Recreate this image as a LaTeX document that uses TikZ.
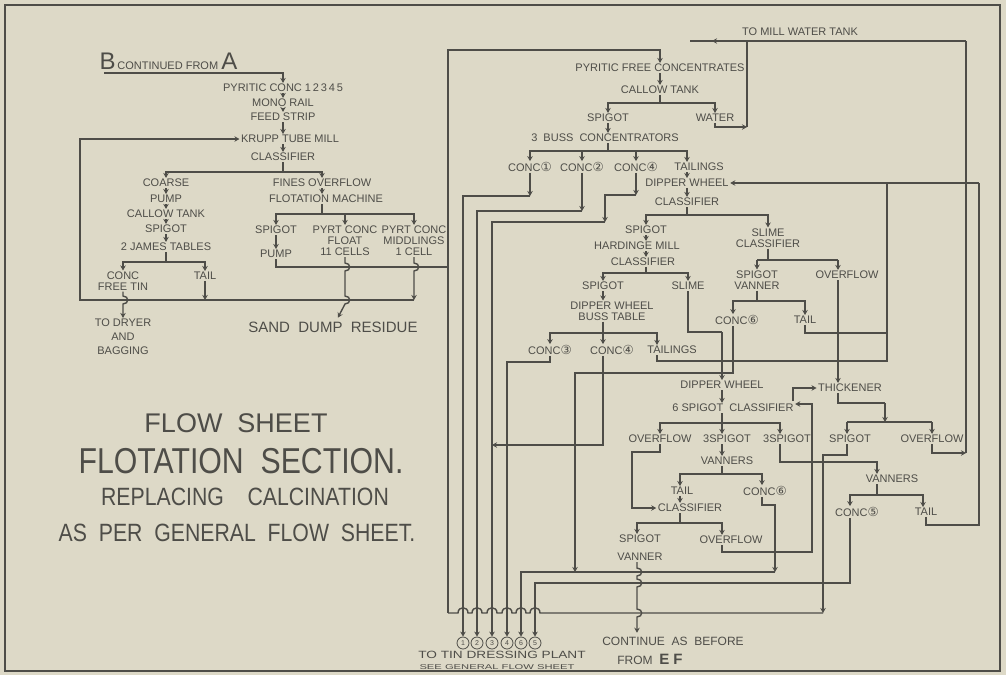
\documentclass[tikz,border=0pt]{standalone}
\usepackage{fontspec}
\usepackage{graphicx}
\setmainfont{Liberation Sans}
\newfontfamily\circfont{DejaVu Sans}
\usetikzlibrary{arrows.meta}

\definecolor{paper}{RGB}{221,217,199}
\definecolor{ink}{RGB}{78,77,72}

\newcommand\lblfont{\fontsize{11}{11}\selectfont}
\newcommand\bigletter[1]{{\fontsize{24}{24}\selectfont #1}}
\newcommand\cn[1]{{\circfont\fontsize{12.5}{11}\selectfont #1}}

\tikzset{
  lbl/.style={font=\lblfont, inner xsep=1pt, inner ysep=0.5pt, align=center},
  grade/.style={circle, draw, line width=0.8pt, inner sep=0pt, minimum size=12pt, font=\fontsize{7}{7}\selectfont},
}

\begin{document}
\begin{tikzpicture}[x=1pt, y=-1pt, >={Stealth[length=5pt,width=5.5pt]}, color=ink, line width=1.4pt]
  \fill[paper] (0,0) rectangle (1006,675);
  \draw[line width=1.8pt] (5,5) rectangle (1000,671);

  % left half: pyritic concentrates
  \node[anchor=base west, inner sep=0pt] (bfrom) at (99,69) {\bigletter{B}\,{\lblfont CONTINUED FROM }\bigletter{A}};
  \node[lbl] (pyr) at (283,88) {PYRITIC CONC 1\,2\,3\,4\,5};
  \node[lbl] (mono) at (283,103) {MONO RAIL};
  \node[lbl] (feed) at (283,117) {FEED STRIP};
  \node[lbl] (krupp) at (290,139) {KRUPP TUBE MILL};
  \node[lbl] (cls1) at (283,157) {CLASSIFIER};
  \node[lbl] (coarse) at (166,183) {COARSE};
  \node[lbl] (pump1) at (166,199) {PUMP};
  \node[lbl] (callow1) at (166,214) {CALLOW TANK};
  \node[lbl] (spig1) at (166,229) {SPIGOT};
  \node[lbl] (james) at (166,247) {2 JAMES TABLES};
  \node[lbl] (conc1) at (123,281) {CONC\\FREE TIN};
  \node[lbl] (tail1) at (205,276) {TAIL};
  \node[lbl, font=\fontsize{11}{14}\selectfont] (dryer) at (123,337) {TO DRYER\\AND\\BAGGING};
  \node[lbl] (fines) at (322,183) {FINES OVERFLOW};
  \node[lbl] (flot) at (326,199) {FLOTATION MACHINE};
  \node[lbl] (spig2) at (276,230) {SPIGOT};
  \node[lbl] (pump2) at (276,254) {PUMP};
  \node[lbl] (pyrtf) at (345,241) {PYRT CONC\\FLOAT\\11 CELLS};
  \node[lbl] (pyrtm) at (414,241) {PYRT CONC\\MIDDLINGS\\1 CELL};
  \node[font=\fontsize{15}{15}\selectfont] (sand) at (333,327) {SAND\ \ DUMP\ \ RESIDUE};

  \node[font=\fontsize{27}{27}\selectfont] (fs) at (236,423) {FLOW\ \ SHEET};
  \node[font=\fontsize{36}{36}\selectfont] (fsec) at (241,461) {\scalebox{0.84}[1]{FLOTATION\ \ SECTION.}};
  \node[font=\fontsize{25}{25}\selectfont] (repl) at (245,497) {\scalebox{0.85}[1]{REPLACING\ \ \ \ CALCINATION}};
  \node[font=\fontsize{25}{25}\selectfont] (asper) at (237,533) {\scalebox{0.85}[1]{AS\ \ PER\ \ GENERAL\ \ FLOW\ \ SHEET.}};

  \coordinate (bu) at (104,73);
  \draw[->] (bu) -| (pyr);
  \draw[->] (pyr) -- (mono);
  \draw[->] (mono) -- (feed);
  \draw[->] (feed) -- (feed |- krupp.north);
  \draw[->] (feed |- krupp.south) -- (cls1);
  \coordinate (j1) at (283,172);
  \draw (cls1) -- (j1);
  \draw[->] (j1) -| (coarse);
  \draw[->] (j1) -| (fines);
  \draw[->] (coarse) -- (pump1);
  \draw[->] (pump1) -- (callow1);
  \draw[->] (callow1) -- (spig1);
  \draw[->] (spig1) -- (james);
  \coordinate (j2) at (166,262);
  \draw (james) -- (j2);
  \draw[->] (j2) -| (conc1);
  \draw[->] (j2) -| (tail1);
  % middlings and tail back to the tube mill
  \coordinate (rr) at (414,300);
  \coordinate (rl) at (80,300);
  \draw[->] (rr) -- (rl) |- (krupp);
  \draw[->] (tail1) -- (tail1 |- rr);
  \draw[->] (conc1) -- (123,296) to[out=0,in=0,looseness=2] (123,304) -- (dryer);
  \draw[->] (fines) -- (fines |- flot.north);
  \coordinate (j3) at (322,214);
  \draw (fines |- flot.south) -- (j3);
  \draw[->] (j3) -| (spig2);
  \draw[->] (j3) -| (pyrtf);
  \draw[->] (j3) -| (pyrtm);
  \draw[->] (spig2) -- (pump2);
  \coordinate (pl) at (448,267);
  \draw (pump2) |- (pl);
  \draw[->] (pyrtm) -- (414,263) to[out=0,in=0,looseness=2] (414,271) -- (rr);
  \draw[->] (pyrtf) -- (345,263) to[out=0,in=0,looseness=2] (345,271) -- (345,296)
    to[out=0,in=0,looseness=2] (345,304) -- (sand);

  % right half: pyritic free concentrates
  \node[lbl] (mill) at (800,32) {TO MILL WATER TANK};
  \node[lbl] (pfc) at (660,68) {PYRITIC FREE CONCENTRATES};
  \node[lbl] (callow2) at (660,90) {CALLOW TANK};
  \node[lbl] (spig3) at (608,118) {SPIGOT};
  \node[lbl] (water) at (715,118) {WATER};
  \node[lbl] (buss3) at (605,138) {3\ \ BUSS\ \ CONCENTRATORS};
  \node[lbl] (c1) at (530,167) {CONC\cn{①}};
  \node[lbl] (c2) at (582,167) {CONC\cn{②}};
  \node[lbl] (c4a) at (636,167) {CONC\cn{④}};
  \node[lbl] (tails1) at (699,167) {TAILINGS};
  \node[lbl] (dw1) at (687,183) {DIPPER WHEEL};
  \node[lbl] (cls2) at (687,202) {CLASSIFIER};
  \node[lbl] (spig4) at (646,230) {SPIGOT};
  \node[lbl] (hard) at (637,246) {HARDINGE MILL};
  \node[lbl] (cls3) at (643,262) {CLASSIFIER};
  \node[lbl] (spig5) at (603,286) {SPIGOT};
  \node[lbl] (slime1) at (688,286) {SLIME};
  \node[lbl] (dwbuss) at (612,311) {DIPPER WHEEL\\BUSS TABLE};
  \node[lbl] (c3) at (550,350) {CONC\cn{③}};
  \node[lbl] (c4b) at (612,350) {CONC\cn{④}};
  \node[lbl] (tails2) at (672,350) {TAILINGS};
  \node[lbl] (slcls) at (768,238) {SLIME\\CLASSIFIER};
  \node[lbl] (spvan) at (757,280) {SPIGOT\\VANNER};
  \node[lbl] (ovf1) at (847,275) {OVERFLOW};
  \node[lbl] (c6a) at (737,320) {CONC\cn{⑥}};
  \node[lbl] (tail2) at (805,320) {TAIL};
  \node[lbl] (dw3) at (722,385) {DIPPER WHEEL};
  \node[lbl] (cls5) at (733,408) {6 SPIGOT\ \ CLASSIFIER};
  \node[lbl] (thick) at (850,388) {THICKENER};
  \node[lbl] (ovf2) at (660,439) {OVERFLOW};
  \node[lbl] (s3a) at (727,439) {3SPIGOT};
  \node[lbl] (s3b) at (787,439) {3SPIGOT};
  \node[lbl] (spig7) at (850,439) {SPIGOT};
  \node[lbl] (ovf3) at (932,439) {OVERFLOW};
  \node[lbl] (vann2) at (727,461) {VANNERS};
  \node[lbl] (vann3) at (892,479) {VANNERS};
  \node[lbl] (tail3) at (682,491) {TAIL};
  \node[lbl] (c6b) at (765,491) {CONC\cn{⑥}};
  \node[lbl] (cls6) at (690,508) {CLASSIFIER};
  \node[lbl] (c5) at (857,512) {CONC\cn{⑤}};
  \node[lbl] (tail4) at (926,512) {TAIL};
  \node[lbl, font=\fontsize{11}{18}\selectfont] (spv) at (640,548) {SPIGOT\\VANNER};
  \node[lbl] (ovf4) at (731,540) {OVERFLOW};
  \node[font=\fontsize{12}{12}\selectfont] (cont) at (673,641) {CONTINUE\ \ AS\ \ BEFORE};
  \node[font=\fontsize{12}{12}\selectfont] (from) at (650,659) {FROM\ \ {\fontsize{15}{15}\selectfont\bfseries E F}};
  \node[font=\fontsize{10.5}{10.5}\selectfont] (tin) at (502,655) {\scalebox{1.3}[1]{TO TIN DRESSING PLANT}};
  \node[font=\fontsize{7}{7}\selectfont] (see) at (497,667) {\scalebox{1.6}[1]{SEE GENERAL FLOW SHEET}};
  \foreach \x/\n [count=\i] in {463/1,477/2,492/3,507/4,521/6,535/5}
    \node[grade] (d\i) at (\x,643) {\n};

  % riser to pyritic free concentrates
  \coordinate (rb) at (448,613);
  \coordinate (rt) at (448,50);
  \draw[->] (rb) -- (rt) -| (pfc);
  % mill water tank
  \coordinate (mw) at (690,41);
  \coordinate (mr) at (966,41);
  \coordinate (wr) at (747,127);
  \draw (mr) -- (mw);
  \draw[->] (water.south) |- (wr);
  \draw[->] (wr) -- (wr |- mw) -- (712,41);

  \draw[->] (pfc) -- (callow2);
  \coordinate (j4) at (660,103);
  \draw (callow2) -- (j4);
  \draw[->] (j4) -| (spig3);
  \draw[->] (j4) -| (water);
  \draw[->] (spig3) -- (spig3 |- buss3.north);
  \coordinate (j5) at (608,151);
  \coordinate (j5r) at (687,151);
  \draw (spig3 |- buss3.south) -- (j5);
  \draw[->] (j5) -| (c1);
  \draw[->] (j5) -| (c2);
  \draw[->] (j5) -| (c4a);
  \draw[->] (j5) -- (j5r) -- (j5r |- tails1.north);
  \draw[->] (j5r |- tails1.south) -- (dw1);
  \draw[->] (dw1) -- (cls2);

  % concentrates down to the tin dressing plant
  \coordinate (q1) at (463,196);
  \draw[->] (c1) -- (c1 |- q1);
  \draw[->] (c1 |- q1) -- (q1) -- (d1);
  \coordinate (q2) at (477,211);
  \draw[->] (c2) -- (c2 |- q2);
  \draw[->] (c2 |- q2) -- (q2) -- (d2);
  \coordinate (q3a) at (605,195);
  \coordinate (q3) at (492,222);
  \draw[->] (c4a) -- (c4a |- q3a);
  \draw[->] (c4a |- q3a) -- (q3a) -- (q3a |- q3);
  \draw[->] (q3a |- q3) -- (q3) -- (d3);
  \coordinate (q4) at (507,362);
  \draw[->] (c3) |- (q4) -- (d4);

  \coordinate (j6) at (687,215);
  \draw (cls2) -- (j6);
  \draw[->] (j6) -| (spig4);
  \draw[->] (j6) -| (slcls);
  \draw[->] (spig4) -- (spig4 |- hard.north);
  \draw[->] (spig4 |- hard.south) -- (spig4 |- cls3.north);
  \coordinate (j7) at (646,273);
  \draw (spig4 |- cls3.south) -- (j7);
  \draw[->] (j7) -| (spig5);
  \draw[->] (j7) -| (slime1);
  \draw[->] (spig5) -- (spig5 |- dwbuss.north);
  \coordinate (j8) at (603,333);
  \coordinate (j8r) at (657,333);
  \draw (spig5 |- dwbuss.south) -- (j8);
  \draw[->] (j8) -| (c3);
  \draw[->] (j8) -- (j8 |- c4b.north);
  \draw[->] (j8) -- (j8r) -- (j8r |- tails2.north);
  \coordinate (c4d) at (603,445);
  \draw[->] (j8 |- c4b.south) -- (c4d) -- (q3 |- c4d);

  % tailings and tail back to the dipper wheel
  \coordinate (k0) at (887,183);
  \coordinate (k1) at (887,333);
  \coordinate (k2) at (887,361);
  \draw (j8r |- tails2.south) |- (k2) -- (k0);
  \draw (tail2) |- (k1);
  \coordinate (rc) at (979,183);
  \coordinate (t4r) at (979,525);
  \draw[->] (rc) -- (dw1);
  \draw (tail4) |- (t4r) -- (rc);

  % slime classifier
  \coordinate (j9) at (768,260);
  \coordinate (j9l) at (757,260);
  \coordinate (j9r) at (838,260);
  \draw (slcls) -- (j9);
  \draw (j9l) -- (j9r);
  \draw[->] (j9l) -- (spvan);
  \draw[->] (j9r) -- (j9r |- ovf1.north);
  \draw[->] (j9r |- ovf1.south) -- (j9r |- thick.north);
  \coordinate (j10) at (757,301);
  \coordinate (j10l) at (733,301);
  \coordinate (j10r) at (805,301);
  \draw (spvan) -- (j10);
  \draw[->] (j10) -- (j10l) -- (j10l |- c6a.north);
  \draw[->] (j10) -- (j10r) -- (tail2);
  \coordinate (c6l) at (733,373);
  \coordinate (c6m) at (575,373);
  \coordinate (c6n) at (575,572);
  \draw[->] (j10l |- c6a.south) -- (c6l) -- (c6m) -- (c6n);

  % slime to the six spigot classifier
  \coordinate (sl1) at (688,332);
  \coordinate (sl2) at (722,332);
  \draw (slime1) -- (sl1) -- (sl2);
  \draw[->] (sl2) -- (sl2 |- dw3.north);
  \draw[->] (dw3) -- (dw3 |- cls5.north);
  \coordinate (j11) at (722,423);
  \coordinate (j11l) at (660,423);
  \coordinate (j11r) at (780,423);
  \draw (dw3 |- cls5.south) -- (j11);
  \draw[->] (j11) -- (j11l) -- (ovf2);
  \draw[->] (j11) -- (j11 |- s3a.north);
  \draw[->] (j11) -- (j11r) -- (j11r |- s3b.north);
  \coordinate (ct) at (793,401);
  \draw[->] (ct) |- (thick);
  \coordinate (o4a) at (722,552);
  \coordinate (o4b) at (812,552);
  \coordinate (o4c) at (812,404);
  \draw[->] (ovf4.south -| o4a) -- (o4a) -- (o4b) -- (o4c) -- (cls5.east |- o4c);

  \draw[->] (j11 |- s3a.south) -- (j11 |- vann2.north);
  \coordinate (j12) at (722,474);
  \coordinate (j12l) at (680,474);
  \coordinate (j12r) at (762,474);
  \draw (j11 |- vann2.south) -- (j12);
  \draw[->] (j12) -- (j12l) -- (j12l |- tail3.north);
  \draw[->] (j12) -- (j12r) -- (j12r |- c6b.north);
  \draw[->] (j12l |- tail3.south) -- (j12l |- cls6.north);
  \coordinate (o2a) at (632,452);
  \draw[->] (j11l |- ovf2.south) |- (o2a) |- (cls6);
  \coordinate (j13) at (680,523);
  \coordinate (j13l) at (637,523);
  \coordinate (j13r) at (722,523);
  \draw (j12l |- cls6.south) -- (j13);
  \draw[->] (j13) -- (j13l) -- (j13l |- spv.north);
  \draw[->] (j13) -- (j13r) -- (j13r |- ovf4.north);
  \draw[->] (j13l |- spv.south) -- (637,568) to[out=0,in=0,looseness=2] (637,576) -- (637,579)
    to[out=0,in=0,looseness=2] (637,587) -- (637,609) to[out=0,in=0,looseness=2] (637,617) -- (j13l |- cont.north);

  \coordinate (c6c) at (775,505);
  \coordinate (c6d) at (775,572);
  \coordinate (q5) at (521,572);
  \draw[->] (j12r |- c6b.south) |- (c6c) -- (c6d);
  \draw[->] (c6d) -- (q5) -- (d5);

  % three spigot vanners
  \coordinate (s3c) at (780,462);
  \coordinate (s3d) at (877,462);
  \draw[->] (j11r |- s3b.south) -- (s3c) -- (s3d) -- (s3d |- vann3.north);
  \coordinate (j14) at (877,495);
  \coordinate (j14l) at (850,495);
  \coordinate (j14r) at (923,495);
  \draw (s3d |- vann3.south) -- (j14);
  \draw[->] (j14) -- (j14l) -- (j14l |- c5.north);
  \draw[->] (j14) -- (j14r) -- (j14r |- tail4.north);
  \coordinate (c5a) at (850,583);
  \coordinate (q6) at (535,583);
  \draw[->] (j14l |- c5.south) -- (c5a) -- (q6) -- (d6);

  % thickener
  \coordinate (th1) at (838,403);
  \coordinate (th2) at (885,403);
  \coordinate (j15l) at (847,422);
  \coordinate (j15r) at (932,422);
  \draw (j9r |- thick.south) -- (th1) -- (th2);
  \draw[->] (th2) -- (th2 |- j15l);
  \draw (j15l) -- (j15r);
  \draw[->] (j15l) -- (j15l |- spig7.north);
  \draw[->] (j15r) -- (ovf3);
  \coordinate (ov3r) at (966,453);
  \draw[->] (ovf3) |- (ov3r);
  \draw (ov3r) -- (mr);
  \coordinate (sp7) at (823,455);
  \coordinate (sb) at (823,613);
  \draw[->] (j15l |- spig7.south) |- (sp7) -- (sb);
  \draw (sb) -- (540,613) to[out=90,in=90,looseness=1.8] (530,613) -- (526,613)
    to[out=90,in=90,looseness=1.8] (516,613) -- (512,613)
    to[out=90,in=90,looseness=1.8] (502,613) -- (497,613)
    to[out=90,in=90,looseness=1.8] (487,613) -- (482,613)
    to[out=90,in=90,looseness=1.8] (472,613) -- (468,613)
    to[out=90,in=90,looseness=1.8] (458,613) -- (rb);
\end{tikzpicture}
\end{document}
